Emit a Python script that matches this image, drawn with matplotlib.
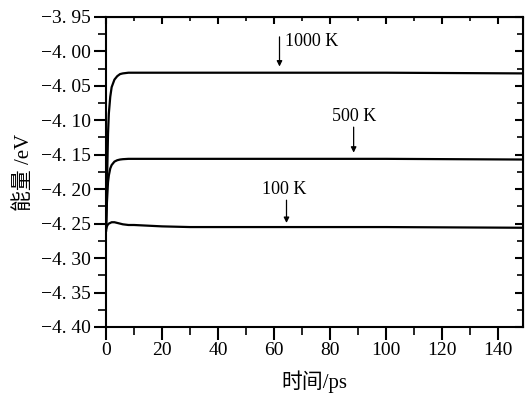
import numpy as np
import matplotlib
matplotlib.use("Agg")
import matplotlib.pyplot as plt
from matplotlib.ticker import MultipleLocator

plt.rcParams['font.family'] = ['Liberation Serif', 'Noto Sans CJK SC']
plt.rcParams['axes.unicode_minus'] = True

# time (ps) and energy (eV)
t = [0, 0.3, 0.7, 1.0, 1.5, 2, 3, 4, 5, 6, 8, 10, 15, 20, 30, 60, 100, 149]
e_1000 = [-4.260, -4.200, -4.120, -4.090, -4.066, -4.052, -4.041, -4.036, -4.033, -4.032,
          -4.031, -4.031, -4.031, -4.031, -4.031, -4.031, -4.031, -4.032]
e_500 = [-4.260, -4.220, -4.190, -4.180, -4.170, -4.165, -4.160, -4.158, -4.157, -4.1565,
         -4.156, -4.156, -4.156, -4.156, -4.156, -4.156, -4.156, -4.157]
e_100 = [-4.258, -4.254, -4.251, -4.250, -4.249, -4.248, -4.248, -4.249, -4.250, -4.251,
         -4.252, -4.252, -4.253, -4.254, -4.255, -4.255, -4.255, -4.256]

labels = ["1000 K", "500 K", "100 K"]
# (text x, text y, arrow x, arrow top, arrow tip)
notes = [(64, -3.986, 62, -3.979, -4.022),
         (88.6, -4.094, 88.5, -4.110, -4.147),
         (63.5, -4.201, 64.5, -4.216, -4.249)]

yticks = np.round(np.arange(-4.40, -3.949, 0.05), 2)
ytick_labels = [("\u2212%.2f" % abs(v)).replace(".", ". ") for v in yticks]
xticks = np.arange(0, 141, 20)

fig = plt.figure(figsize=(5.25, 3.93), dpi=100)
ax = fig.add_axes([0.202, 0.168, 0.794, 0.789])

for e in (e_1000, e_500, e_100):
    ax.plot(t, e, color="black", lw=1.6)

for lab, (tx, ty, ax_x, a0, a1) in zip(labels, notes):
    ax.text(tx, ty, lab, fontsize=13, ha="left" if lab == "1000 K" else "center", va="center")
    ax.annotate("", xy=(ax_x, a1), xytext=(ax_x, a0),
                arrowprops=dict(arrowstyle="-|>", color="black", lw=0.9,
                                mutation_scale=8, shrinkA=0, shrinkB=0))

ax.set_xlim(0, 149)
ax.set_ylim(-4.40, -3.95)
ax.set_xticks(xticks)
ax.set_yticks(yticks)
ax.set_yticklabels(ytick_labels)
ax.xaxis.set_minor_locator(MultipleLocator(10))
ax.yaxis.set_minor_locator(MultipleLocator(0.025))
ax.tick_params(which="major", direction="out", length=9, width=1.5, labelsize=14, pad=2)
ax.tick_params(which="minor", direction="out", length=6, width=1.2)
for s in ax.spines.values():
    s.set_linewidth(1.5)

top = ax.secondary_xaxis("top")
top.set_xticks(xticks)
top.xaxis.set_minor_locator(MultipleLocator(10))
top.tick_params(which="major", direction="in", length=5, width=1.5, labeltop=False)
top.tick_params(which="minor", direction="in", length=3, width=1.2)
right = ax.secondary_yaxis("right")
right.set_yticks(yticks)
right.yaxis.set_minor_locator(MultipleLocator(0.025))
right.tick_params(which="major", direction="in", length=6, width=1.5, labelright=False)
right.tick_params(which="minor", direction="in", length=4, width=1.2)

ax.set_xlabel("时间/ps", fontsize=15, labelpad=8)
ax.set_ylabel("能量 /eV", fontsize=15, labelpad=5)

fig.savefig("out.png", dpi=100)
